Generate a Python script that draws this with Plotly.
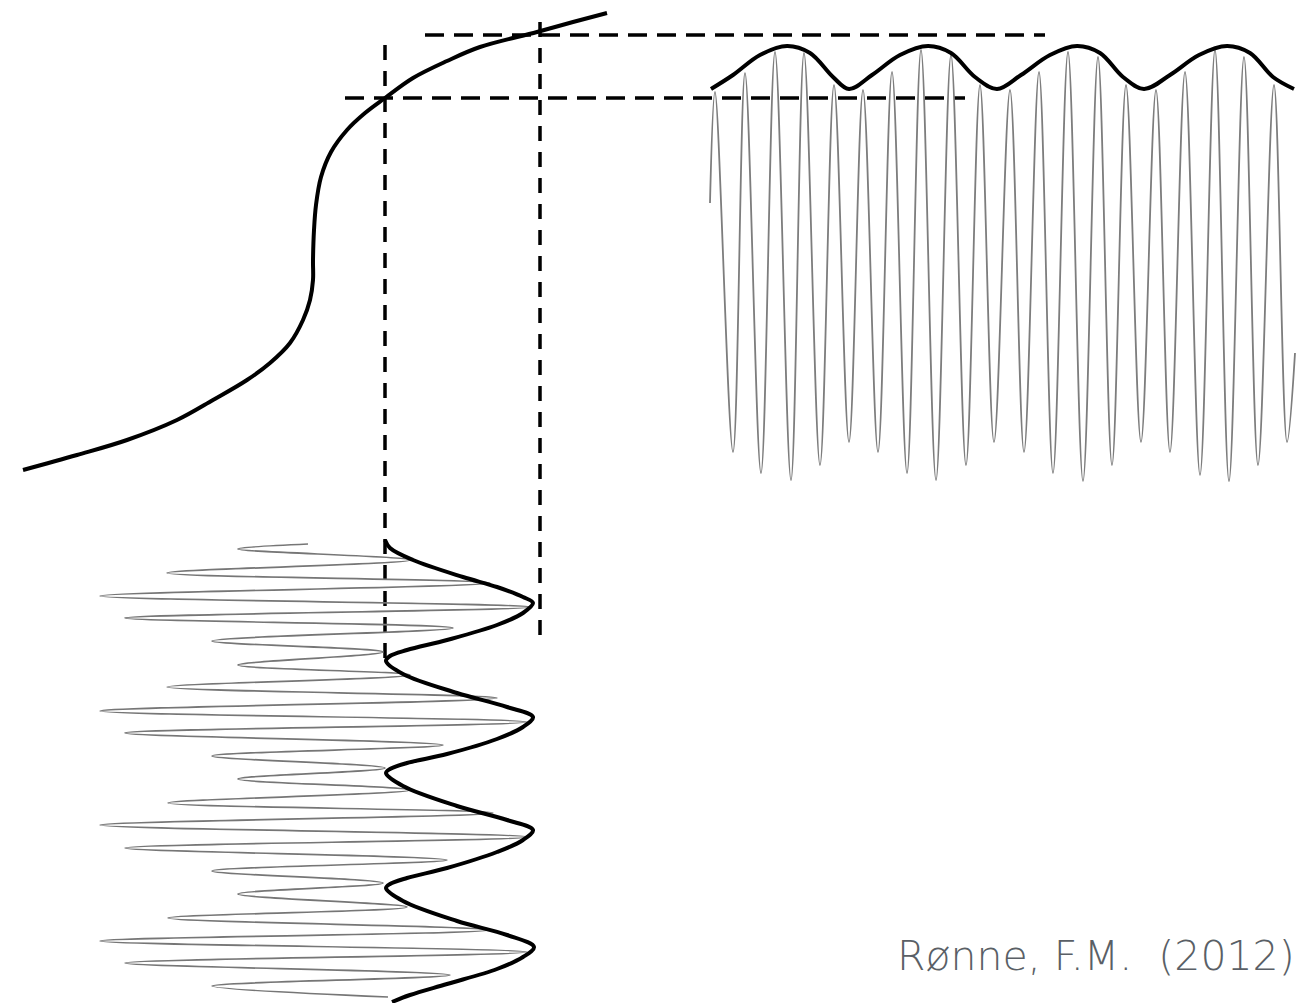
import plotly.graph_objects as go

# ---- data (drawing units = picture pixels, y downward) ----
# transfer curve (S-shape)
curve_x = [23, 77, 127, 177, 213, 247, 270, 290, 303, 310, 313, 313, 314, 316, 321, 331,
           347, 365, 385, 413, 447, 480, 537, 573, 607]
curve_y = [470, 455, 440, 420, 400, 380, 363, 343, 320, 300, 280, 260, 230, 205, 177, 152,
           130, 113, 98, 78, 61, 47, 32, 22, 13]

# output signal (top right): alternating peaks / troughs
out_x = [710, 715, 733, 745, 761, 775, 791, 804, 820, 834, 849, 863, 878, 892, 907,
         921, 936, 951, 966, 980, 994, 1010, 1024, 1039, 1053, 1068, 1083, 1098, 1112,
         1126, 1141, 1156, 1170, 1185, 1200, 1215, 1229, 1244, 1258, 1274, 1287, 1295]
out_y = [203, 92, 452, 73, 473, 52, 480, 53, 465, 85, 442, 90, 452, 72, 473,
         50, 480, 55, 465, 85, 442, 90, 452, 72, 473, 52, 481, 57, 465,
         85, 442, 90, 452, 72, 475, 50, 481, 57, 465, 85, 442, 353]

# output envelope (top right)
out_env_x = [711, 733, 760, 787, 810, 833, 849,
             872, 900, 928, 951, 975, 997,
             1021, 1050, 1077, 1100, 1123, 1144,
             1170, 1199, 1227, 1250, 1273, 1294]
out_env_y = [89, 75, 55, 46, 53, 77, 89,
             75, 55, 46, 53, 77, 89,
             75, 55, 46, 53, 77, 89,
             75, 55, 46, 53, 77, 89]

# input signal (bottom left): alternating left tips / right tips
in_x = [308, 238, 410, 167, 490, 100, 530, 125, 453, 212, 383, 238, 410, 167, 497, 100,
        527, 125, 443, 212, 385, 238, 410, 168, 493, 100, 527, 125, 447, 212, 383, 238,
        407, 168, 490, 100, 527, 125, 450, 212, 388]
in_y = [544, 549, 560, 573, 583, 596, 607, 618, 628, 641, 652, 665, 675, 687, 698, 711,
        722, 733, 745, 756, 768, 779, 790, 803, 813, 825, 837, 848, 860, 871, 883, 894,
        907, 918, 930, 941, 952, 963, 975, 986, 997]

# input envelope (bottom left)
in_env_x = [385, 390, 413, 463, 497, 523, 533, 523, 497, 447, 407, 390, 386,
            403, 457, 507, 533, 523, 497, 447, 407, 390, 386,
            403, 457, 507, 533, 523, 497, 447, 407, 390, 386,
            403, 457, 507, 534, 523, 497, 447, 410, 392]
in_env_y = [540, 548, 560, 577, 587, 597, 603, 613, 625, 640, 650, 656, 661,
            674, 693, 707, 717, 727, 739, 754, 763, 769, 773,
            786, 806, 820, 830, 840, 852, 868, 878, 884, 888,
            901, 921, 935, 947, 957, 969, 984, 995, 1002]

# projection (dashed) lines
vlines_x = [385, 540]
vlines_y0 = [45, 22]
vlines_y1 = [663, 640]
hlines_y = [35, 98]
hlines_x0 = [425, 345]
hlines_x1 = [1045, 965]

credit = "Rønne, F.M.  (2012)"

fig = go.Figure()

for x, y0, y1 in zip(vlines_x, vlines_y0, vlines_y1):
    fig.add_trace(go.Scatter(x=[x, x], y=[y0, y1], mode="lines",
                             line=dict(color="black", width=3.5, dash="15px,11px")))
for y, x0, x1 in zip(hlines_y, hlines_x0, hlines_x1):
    fig.add_trace(go.Scatter(x=[x0, x1], y=[y, y], mode="lines",
                             line=dict(color="black", width=3.5, dash="19px,10px")))

fig.add_trace(go.Scatter(x=out_x, y=out_y, mode="lines",
                         line=dict(color="#7d7d7d", width=1.8, shape="spline", smoothing=1)))
fig.add_trace(go.Scatter(x=in_x, y=in_y, mode="lines",
                         line=dict(color="#767676", width=1.7, shape="spline", smoothing=1)))
fig.add_trace(go.Scatter(x=curve_x, y=curve_y, mode="lines",
                         line=dict(color="black", width=4, shape="spline", smoothing=1)))
fig.add_trace(go.Scatter(x=out_env_x, y=out_env_y, mode="lines",
                         line=dict(color="black", width=4, shape="spline", smoothing=1)))
fig.add_trace(go.Scatter(x=in_env_x, y=in_env_y, mode="lines",
                         line=dict(color="black", width=4, shape="spline", smoothing=1)))

fig.add_annotation(x=1297, y=956, xref="x", yref="y", text=credit, showarrow=False,
                   xanchor="right", yanchor="middle",
                   font=dict(family="DejaVu Sans", size=41, color="#5a5f66", weight=200))

fig.update_layout(
    width=1299, height=1003,
    margin=dict(l=0, r=0, t=0, b=0),
    paper_bgcolor="white", plot_bgcolor="white",
    showlegend=False, hovermode=False,
    xaxis=dict(range=[0, 1299], visible=False, fixedrange=True),
    yaxis=dict(range=[1003, 0], visible=False, fixedrange=True),
)

fig.write_html("out.html", config={"displayModeBar": False},
               post_script="document.body.style.margin='0';document.body.style.overflow='hidden';")
